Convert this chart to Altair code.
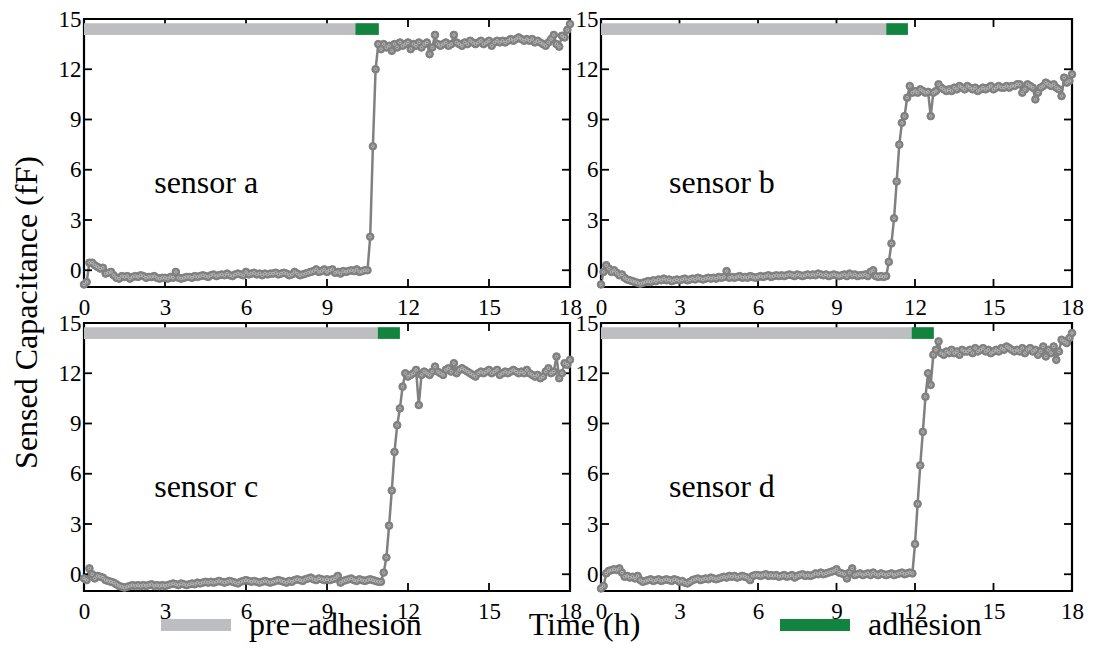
import altair as alt
import pandas as pd

# ---------------- data ----------------
TIME_STEP_H = 0.1  # sampling grid of the recordings, 0 .. 18 h

SENSOR_A = [
    -0.85, -0.7, 0.45, 0.45, 0.3, 0.2, 0.1, 0.15, -0.2, -0.15,
    -0.1, -0.3, -0.45, -0.5, -0.35, -0.4, -0.35, -0.5, -0.4, -0.35,
    -0.4, -0.3, -0.35, -0.45, -0.4, -0.4, -0.35, -0.45, -0.5, -0.45,
    -0.45, -0.5, -0.4, -0.45, -0.1, -0.45, -0.5, -0.45, -0.4, -0.4,
    -0.45, -0.35, -0.4, -0.35, -0.3, -0.35, -0.4, -0.3, -0.25, -0.35,
    -0.3, -0.25, -0.3, -0.2, -0.3, -0.35, -0.25, -0.2, -0.25, -0.3,
    -0.1, -0.25, -0.2, -0.15, -0.25, -0.2, -0.3, -0.2, -0.25, -0.2,
    -0.2, -0.15, -0.25, -0.2, -0.15, -0.2, -0.3, -0.25, -0.1, -0.2,
    -0.3, -0.25, -0.2, -0.15, -0.1, -0.05, 0.05, -0.1, -0.05, 0.05,
    -0.1, 0.0, 0.05, -0.15, -0.1, -0.2, -0.05, -0.1, -0.05, 0.0,
    -0.05, 0.05, -0.1, -0.05, 0.0, 0.0, 2.0, 7.4, 12.0, 13.5,
    13.2, 13.5, 13.3, 13.4, 13.1, 13.5, 13.3, 13.6, 13.4, 13.5,
    13.6, 13.2, 13.5, 13.4, 13.6, 13.3, 13.5, 13.6, 12.9, 13.3,
    14.05, 13.5, 13.4, 13.5, 13.6, 13.4, 13.5, 14.05, 13.6, 13.5,
    13.4, 13.6, 13.5, 13.7, 13.6, 13.5, 13.6, 13.7, 13.5, 13.6,
    13.7, 13.4, 13.6, 13.7, 13.6, 13.7, 13.6, 13.7, 13.8, 13.7,
    13.8, 13.9, 13.8, 13.7, 13.8, 13.7, 13.8, 13.6, 13.7, 13.6,
    13.5, 13.4, 13.6, 13.8, 14.05, 13.5, 13.35, 14.0, 13.9, 14.35,
    14.7,
]
SENSOR_B = [
    -0.85, -0.1, 0.3, 0.1, -0.1, 0.0, -0.15, -0.3, -0.25, -0.45,
    -0.55, -0.6, -0.65, -0.7, -0.75, -0.8, -0.75, -0.7, -0.65, -0.7,
    -0.6, -0.65, -0.55, -0.6, -0.5, -0.6, -0.55, -0.65, -0.6, -0.55,
    -0.6, -0.55, -0.5, -0.6, -0.55, -0.5, -0.55, -0.45, -0.5, -0.55,
    -0.5, -0.45, -0.5, -0.45, -0.5, -0.4, -0.45, -0.4, -0.05, -0.45,
    -0.4, -0.45, -0.4, -0.35, -0.45, -0.4, -0.45, -0.35, -0.4, -0.45,
    -0.4, -0.35, -0.4, -0.35, -0.3, -0.4, -0.35, -0.3, -0.35, -0.3,
    -0.35, -0.3, -0.25, -0.3, -0.35, -0.25, -0.3, -0.35, -0.3, -0.25,
    -0.3, -0.25, -0.3, -0.2, -0.25, -0.3, -0.25, -0.35, -0.3, -0.25,
    -0.3, -0.35, -0.3, -0.25, -0.35, -0.2, -0.3, -0.25, -0.35, -0.3,
    -0.3, -0.25, -0.35, -0.1, 0.0, -0.35, -0.4, -0.35, -0.4, -0.35,
    0.5, 1.6, 3.1, 5.3, 7.5, 8.8, 9.2, 10.3, 11.0, 10.6,
    10.7, 10.6, 10.8, 10.7, 10.6, 10.65, 9.2, 10.6, 10.7, 11.1,
    10.9, 10.8, 10.7, 10.8, 10.7, 10.9, 10.8, 11.0, 10.9, 10.8,
    11.0, 10.9, 10.8, 10.9, 10.7, 10.8, 10.9, 10.8, 10.9, 11.0,
    10.8, 10.9, 11.0, 10.9, 10.9, 11.0, 10.9, 11.0, 11.0, 11.1,
    11.1, 10.6, 10.8, 11.1, 11.0, 10.9, 10.2, 10.6, 10.9, 11.0,
    11.2, 11.1, 11.0, 11.1, 10.9, 10.8, 10.4, 11.5, 11.2, 11.3,
    11.7,
]
SENSOR_C = [
    -0.25, -0.35, 0.35, 0.0, -0.25, -0.1, -0.15, -0.2, -0.35, -0.4,
    -0.45, -0.5, -0.6, -0.7, -0.75, -0.8, -0.75, -0.7, -0.65, -0.7,
    -0.65, -0.7, -0.65, -0.7, -0.65, -0.6, -0.7, -0.65, -0.7, -0.65,
    -0.7, -0.65, -0.6, -0.55, -0.6, -0.65, -0.55, -0.6, -0.65, -0.6,
    -0.55, -0.6, -0.5, -0.55, -0.5, -0.45, -0.5, -0.45, -0.5, -0.45,
    -0.4, -0.45, -0.5, -0.45, -0.4, -0.45, -0.5, -0.55, -0.45, -0.4,
    -0.35, -0.4, -0.45, -0.4, -0.45, -0.5, -0.45, -0.4, -0.45, -0.5,
    -0.45, -0.4, -0.35, -0.4, -0.45, -0.5, -0.4, -0.45, -0.35, -0.3,
    -0.35, -0.4, -0.3, -0.25, -0.2, -0.3, -0.35, -0.25, -0.3, -0.35,
    -0.3, -0.35, -0.3, -0.25, -0.1, -0.5, -0.4, -0.35, -0.3, -0.25,
    -0.35, -0.4, -0.3, -0.35, -0.4, -0.35, -0.3, -0.35, -0.4, -0.45,
    -0.45, 0.1, 1.0, 2.9, 5.0, 7.3, 8.9, 9.9, 11.2, 12.0,
    11.8, 11.9, 12.0, 12.2, 10.1, 11.9, 12.1, 12.0, 11.9, 12.1,
    12.4, 12.1, 12.0, 11.9, 12.2, 12.3, 12.1, 12.6, 12.0, 12.2,
    12.3, 12.2, 12.1, 12.0, 11.9, 11.8, 12.0, 12.1, 12.0, 12.1,
    12.2, 12.0, 12.1, 12.2, 11.9, 12.0, 12.1, 12.0, 12.1, 12.2,
    12.1, 12.0, 12.1, 12.0, 12.2, 12.0, 11.9, 11.8, 11.9, 11.7,
    11.8, 12.1, 12.3, 12.0, 12.1, 13.0, 11.7, 12.0, 12.6, 12.5,
    12.8,
]
SENSOR_D = [
    -0.85, -0.7, 0.05, 0.2, 0.25, 0.3, 0.25, 0.35, 0.1, -0.15,
    -0.1, -0.2, -0.15, -0.25, -0.1, -0.35, -0.45, -0.4, -0.35, -0.3,
    -0.4, -0.35, -0.3, -0.4, -0.35, -0.3, -0.35, -0.4, -0.3, -0.35,
    -0.45, -0.4, -0.5, -0.55, -0.45, -0.35, -0.3, -0.25, -0.35, -0.3,
    -0.25, -0.3, -0.2, -0.25, -0.3, -0.25, -0.2, -0.15, -0.2, -0.1,
    -0.15, -0.1, -0.2, -0.15, -0.1, -0.15, -0.2, -0.35, -0.1, -0.05,
    -0.05, -0.1, -0.05, 0.0, -0.1, -0.05, -0.1, -0.05, -0.15, -0.1,
    -0.05, -0.15, -0.1, -0.05, -0.2, -0.1, -0.05, 0.0, -0.1, -0.05,
    -0.1, -0.05, 0.05, 0.0, 0.1, 0.0, 0.05, 0.1, 0.15, 0.2,
    0.3, 0.1, 0.05, 0.0, -0.25, 0.1, 0.35, -0.05, 0.0, 0.05,
    -0.05, 0.0, 0.05, -0.05, 0.1, 0.0, -0.05, 0.05, 0.0, -0.05,
    0.0, 0.05, -0.05, 0.0, 0.05, 0.1, 0.0, 0.05, 0.1, 0.05,
    1.8, 4.2, 6.5, 8.5, 10.6, 12.0, 11.3, 13.1, 13.4, 13.9,
    13.2, 13.1, 13.3, 13.2, 13.4, 13.2, 13.3, 13.1, 13.4, 13.3,
    13.3, 13.4, 13.2, 13.5, 13.3, 13.4, 13.5, 13.3, 13.4, 13.2,
    13.3, 13.4, 13.3, 13.5, 13.4, 13.6, 13.5, 13.4, 13.3, 13.4,
    13.3, 13.5, 13.2, 13.4, 13.5, 13.3, 13.4, 13.1, 13.3, 13.6,
    13.0, 13.4, 13.2, 13.6, 12.8, 13.3, 14.0, 13.9, 13.8, 14.1,
    14.4,
]

SENSOR_NAMES = ["sensor a", "sensor b", "sensor c", "sensor d"]
SERIES = [SENSOR_A, SENSOR_B, SENSOR_C, SENSOR_D]
PRE_END = [10.05, 10.9, 10.88, 11.87]     # end of pre-adhesion phase (h)
ADH_END = [10.92, 11.73, 11.7, 12.72]     # end of adhesion bar (h)
PHASES = ["pre\u2212adhesion", "adhesion"]
PHASE_BAND = [14.05, 14.75]               # vertical extent of the phase bars (fF)
LABEL_AT = [2.6, 5.2]                     # where the sensor name sits (h, fF)
X_TICKS = [0, 3, 6, 9, 12, 15, 18]
Y_TICKS = [0, 3, 6, 9, 12, 15]
X_DOMAIN = [0, 18]
Y_DOMAIN = [-1, 15]

GRAY = "#808080"
RING = "#bcbcbc"
BAR_GRAY = "#bdbec0"
GREEN = "#12843f"
FONT = "Liberation Serif"

PANEL_W = [486, 471, 486, 471]
H = 268


def panel(i):
    times = [round(k * TIME_STEP_H, 1) for k in range(len(SERIES[i]))]
    df = pd.DataFrame({"t": times, "c": SERIES[i]})

    xaxis = alt.Axis(
        values=X_TICKS, grid=False, ticks=False, domain=False,
        labelFont=FONT, labelFontSize=23, labelColor="black",
        labelPadding=9, labelFlush=False, labelOverlap=False,
        title="Time (h)" if i == 2 else None,
        titleFont=FONT, titleFontSize=32, titleFontWeight="normal",
        titleColor="black", titleX=500, titleY=33,
        titleBaseline="middle", titleAlign="center",
    )
    yaxis = alt.Axis(
        values=Y_TICKS, grid=False, ticks=False, domain=False,
        labelFont=FONT, labelFontSize=23, labelColor="black",
        labelPadding=3, labelFlush=False, labelOverlap=False,
        title="Sensed Capacitance (fF)" if i == 0 else None,
        titleFont=FONT, titleFontSize=32, titleFontWeight="normal",
        titleColor="black", titleX=-58, titleY=293, titleAngle=270,
        titleBaseline="middle", titleAlign="center",
    )
    xs = alt.Scale(domain=X_DOMAIN, nice=False, zero=False)
    ys = alt.Scale(domain=Y_DOMAIN, nice=False, zero=False)

    def X(f):
        return alt.X(f, scale=xs, axis=xaxis)

    def Y(f):
        return alt.Y(f, scale=ys, axis=yaxis)

    base = alt.Chart(df)
    line = base.mark_line(color=GRAY, strokeWidth=2.5).encode(x=X("t:Q"), y=Y("c:Q"))
    pts = base.mark_point(
        shape="circle", filled=True, fill=GRAY, stroke=GRAY,
        strokeWidth=1, size=58, opacity=1,
    ).encode(x=X("t:Q"), y=Y("c:Q"))
    rings = base.mark_point(
        shape="circle", filled=False, stroke=RING,
        strokeWidth=0.9, size=7, opacity=1,
    ).encode(x=X("t:Q"), y=Y("c:Q"))

    phase_df = pd.DataFrame({
        "phase": PHASES,
        "start": [0.0, PRE_END[i]],
        "end": [PRE_END[i], ADH_END[i]],
        "lo": [PHASE_BAND[0]] * 2,
        "hi": [PHASE_BAND[1]] * 2,
    })
    bars = alt.Chart(phase_df).mark_rect().encode(
        x=X("start:Q"),
        x2="end:Q",
        y=Y("lo:Q"),
        y2="hi:Q",
        color=alt.Color(
            "phase:N",
            scale=alt.Scale(domain=PHASES, range=[BAR_GRAY, GREEN]),
            legend=alt.Legend(
                title=None, orient="none", direction="horizontal",
                legendX=77, legendY=571,
                symbolType="M-1,-0.17H1V0.17H-1Z", symbolSize=4900,
                symbolStrokeWidth=0, symbolOpacity=1,
                labelFont=FONT, labelFontSize=32, labelColor="black",
                labelOffset=18, columnPadding=358, labelLimit=400,
            ),
        ),
    )

    xt = pd.DataFrame({"t": X_TICKS, "top": Y_DOMAIN[1], "bot": Y_DOMAIN[0]})
    yt = pd.DataFrame({"v": Y_TICKS, "left": X_DOMAIN[0], "right": X_DOMAIN[1]})
    tick_style = dict(color="black", thickness=1.8, size=16, clip=True, opacity=1)
    ticks_top = alt.Chart(xt).mark_tick(orient="vertical", **tick_style).encode(
        x=X("t:Q"), y=Y("top:Q"))
    ticks_bot = alt.Chart(xt).mark_tick(orient="vertical", **tick_style).encode(
        x=X("t:Q"), y=Y("bot:Q"))
    ticks_l = alt.Chart(yt).mark_tick(orient="horizontal", **tick_style).encode(
        y=Y("v:Q"), x=X("left:Q"))
    ticks_r = alt.Chart(yt).mark_tick(orient="horizontal", **tick_style).encode(
        y=Y("v:Q"), x=X("right:Q"))

    label_df = pd.DataFrame({
        "name": [SENSOR_NAMES[i]], "lx": [LABEL_AT[0]], "ly": [LABEL_AT[1]],
    })
    label = alt.Chart(label_df).mark_text(
        font=FONT, fontSize=32, color="black", align="left", baseline="middle",
    ).encode(x=X("lx:Q"), y=Y("ly:Q"), text="name:N")

    return alt.layer(
        line, ticks_top, ticks_bot, ticks_l, ticks_r, bars, pts, rings, label
    ).properties(width=PANEL_W[i], height=H)


chart = alt.concat(
    *[panel(i) for i in range(4)],
    columns=2,
    spacing={"row": 36, "column": 31},
    bounds="flush",
).configure(
    background="white", padding={"top": -2, "left": 0, "right": 0, "bottom": 0},
    font=FONT,
).configure_axis(
    labelFont=FONT, titleFont=FONT, labelColor="black", titleColor="black",
    titleFontWeight="normal",
).configure_legend(
    labelFont=FONT,
).configure_view(
    stroke="black", strokeWidth=2.2
)

chart.save("out.html", embed_options={"renderer": "svg", "actions": False})
